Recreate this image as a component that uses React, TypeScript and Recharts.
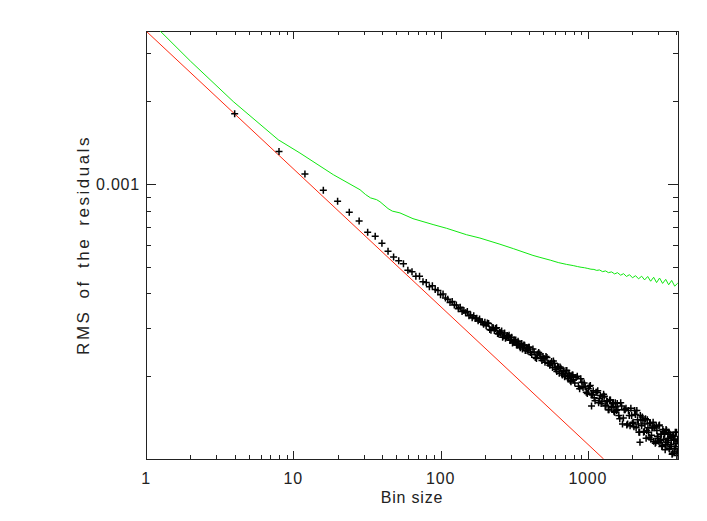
import React from 'react';
import { ComposedChart, Line, Scatter, XAxis, YAxis, ReferenceArea } from 'recharts';

// axis ticks (log scales)
const binMajor = [1, 10, 100, 1000];
const binMinor = [2, 3, 4, 5, 6, 7, 8, 9, 20, 30, 40, 50, 60, 70, 80, 90, 200, 300, 400, 500, 600, 700, 800, 900, 2000, 3000, 4000];
const rmsMajor = [0.001];
const rmsMinor = [0.0002, 0.0003, 0.0004, 0.0005, 0.0006, 0.0007, 0.0008, 0.0009, 0.002, 0.003];

// red reference line (1/sqrt(N))
const redBins = [1, 1280];
const redRms = [0.0036, 0.0001];

// green curve, rms in units of 1e-6
const greenBins = [1, 2, 3.91, 7.91, 11.1, 18.7, 28.4, 31, 33.5, 36.8, 38.8, 44, 47, 53, 65, 89, 110, 150, 185, 253, 312, 424, 473, 560, 630, 718, 796, 850, 900, 950, 1000, 1050, 1100, 1150,
  1200, 1260, 1320, 1380, 1450, 1520, 1590, 1670, 1750, 1830, 1920, 2010, 2110, 2210, 2320, 2430, 2550, 2670, 2800, 2930, 3070, 3220, 3380, 3540, 3710, 3890, 4080];
const greenRms = [4050, 2800, 1995, 1448, 1296, 1081, 953, 915, 890, 877, 862, 814, 797, 785, 748, 712, 690, 654, 636, 604, 582, 550, 541, 528, 518, 510, 505, 501, 498, 496, 493, 490, 489, 485,
  487, 480, 483, 476, 479, 471, 476, 466, 472, 461, 468, 456, 464, 452, 462, 448, 461, 443, 458, 438, 455, 435, 450, 430, 446, 425, 436];

// black crosses, rms in units of 1e-6
const crossBins = [
  4, 8, 12, 16, 20, 24, 28, 32, 36, 40, 44, 48, 52, 56, 60, 64, 68, 72, 76, 80, 84, 88, 92, 96, 100,
  104, 108, 112, 116, 120, 124, 128, 132, 136, 140, 144, 148, 152, 156, 160, 164, 168, 172, 176, 180, 184, 188, 192, 196, 200,
  208, 216, 224, 232, 240, 248, 256, 264, 272, 280, 288, 296, 304, 312, 320, 328, 336, 344, 352, 360, 368, 376, 384, 392, 400,
  416, 432, 448, 464, 480, 496, 512, 528, 544, 560, 576, 592, 608, 624, 640, 656, 672, 688, 704, 720, 736, 752, 768, 784, 800,
  832, 864, 896, 928, 960, 992, 1024, 1056, 1088, 1120, 1152, 1184, 1216, 1248, 1280, 1312, 1344, 1376, 1408, 1440, 1472, 1504, 1536, 1568, 1600,
  1648, 1696, 1744, 1792, 1840, 1888, 1936, 1984, 2032, 2080, 2128, 2176, 2224, 2272, 2320, 2368, 2416, 2464, 2512, 2560, 2608, 2656, 2704, 2752, 2800, 2848,
  2896, 2944, 2992, 3040, 3088, 3136, 3184, 3232, 3280, 3328, 3376, 3424, 3472, 3520, 3568, 3616, 3664, 3712, 3760, 3808, 3856, 3904, 3952, 4000, 4048, 4096,
  1060, 2260,
];
const crossRms = [
  1799, 1313, 1087, 948, 865, 789, 734, 667, 646, 609, 570, 543, 526, 513, 486, 480, 462, 462, 441, 438, 423, 427, 413, 410, 396,
  398, 385, 381, 371, 374, 363, 363, 352, 356, 344, 347, 340, 344, 332, 334, 326, 332, 324, 325, 318, 323, 315, 314, 309, 314,
  312, 296, 301, 293, 300, 285, 288, 277, 287, 278, 279, 270, 277, 267, 267, 260, 268, 258, 262, 251, 260, 248, 254, 247, 255,
  240, 245, 232, 244, 233, 236, 225, 234, 223, 223, 215, 223, 212, 217, 205, 214, 202, 209, 202, 210, 196, 201, 191, 202, 194,
  198, 184, 196, 182, 183, 173, 184, 172, 177, 163, 175, 160, 170, 162, 172, 156, 163, 151, 164, 155, 159, 149, 160, 150, 151,
  140, 156, 141, 151, 133, 150, 132, 144, 136, 150, 130, 139, 125, 144, 132, 138, 126, 140, 127, 130, 120, 135, 122, 130, 116, 131,
  115, 127, 119, 132, 115, 123, 111, 128, 118, 124, 113, 127, 115, 117, 109, 123, 111, 120, 105, 121, 106, 118, 111, 125, 107, 116,
  156, 115,
];

// the bins in between, from 204 upwards
const crossBins2 = [
  204, 212, 220, 228, 236, 244, 252, 260, 268, 276, 284, 292, 300, 308, 316, 324, 332, 340, 348, 356, 364, 372, 380, 388, 396,
  408, 424, 440, 456, 472, 488, 504, 520, 536, 552, 568, 584, 600, 616, 632, 648, 664, 680, 696, 712, 728, 744, 760, 776, 792,
  816, 848, 880, 912, 944, 976, 1008, 1040, 1072, 1104, 1136, 1168, 1200, 1232, 1264, 1296, 1328, 1360, 1392, 1424, 1456, 1488, 1520, 1552, 1584,
  1624, 1672, 1720, 1768, 1816, 1864, 1912, 1960, 2008, 2056, 2104, 2152, 2200, 2248, 2296, 2344, 2392, 2440, 2488, 2536, 2584, 2632, 2680, 2728, 2776, 2824,
  2872, 2920, 2968, 3016, 3064, 3112, 3160, 3208, 3256, 3304, 3352, 3400, 3448, 3496, 3544, 3592, 3640, 3688, 3736, 3784, 3832, 3880, 3928, 3976, 4024, 4072,
];
const crossRms2 = [
  305, 311, 294, 300, 298, 286, 289, 292, 280, 275, 281, 282, 271, 264, 271, 271, 260, 263, 254, 263, 255, 259, 248, 253, 255,
  244, 251, 234, 241, 241, 228, 232, 236, 223, 219, 226, 227, 215, 208, 216, 216, 205, 209, 199, 210, 200, 205, 193, 200, 202,
  189, 200, 180, 190, 189, 175, 180, 185, 171, 167, 175, 177, 166, 159, 168, 169, 157, 162, 151, 164, 154, 160, 148, 155, 159,
  144, 160, 134, 151, 153, 134, 144, 153, 135, 131, 145, 150, 134, 125, 139, 142, 125, 134, 119, 139, 125, 135, 118, 130, 136, 130,
  114, 132, 121, 116, 133, 117, 123, 112, 126, 123, 108, 128, 113, 119, 125, 109, 121, 113, 104, 122, 117, 109, 125, 114, 103, 118,
];

const redData = redBins.map((x, i) => ({ x, y: redRms[i] }));
const greenData = greenBins.map((x, i) => ({ x, y: greenRms[i] * 1e-6 }));
const crossData = [
  ...crossBins.map((x, i) => ({ x, y: crossRms[i] * 1e-6 })),
  ...crossBins2.map((x, i) => ({ x, y: crossRms2[i] * 1e-6 })),
];

const PLOT_W = 532;
const PLOT_H = 428;
const INK = '#222';
const FONT = { fontFamily: 'Liberation Sans, Arial, sans-serif', fontSize: 16, letterSpacing: 0.8, fill: INK };

const XTick = (props: any) => {
  const { x, y, payload } = props;
  const major = binMajor.includes(payload.value);
  const len = major ? 8 : 4;
  const px = Math.round(x) + 0.5;
  return (
    <g>
      <line x1={px} x2={px} y1={y} y2={y - len} stroke={INK} />
      <line x1={px} x2={px} y1={y - PLOT_H} y2={y - PLOT_H + len} stroke={INK} />
      {major && (
        <text x={x} y={y + 24.5} textAnchor="middle" {...FONT}>
          {payload.value}
        </text>
      )}
    </g>
  );
};

const YTick = (props: any) => {
  const { x, y, payload } = props;
  const major = rmsMajor.includes(payload.value);
  const len = major ? 10 : 5;
  const py = Math.round(y) + 0.5;
  return (
    <g>
      <line x1={x} x2={x + len} y1={py} y2={py} stroke={INK} />
      <line x1={x + PLOT_W} x2={x + PLOT_W - len} y1={py} y2={py} stroke={INK} />
      {major && (
        <text x={x - 6} y={y + 6} textAnchor="end" {...FONT}>
          {payload.value}
        </text>
      )}
    </g>
  );
};

const Cross = (props: any) => {
  const { cx, cy } = props;
  if (cx == null || cy == null) return null;
  return <path d={`M${cx - 3.5},${cy}h7M${cx},${cy - 3.5}v7`} stroke="#000" strokeWidth={1.5} fill="none" />;
};

export default function App() {
  return (
    <div style={{ position: 'absolute', left: 0, top: 0, width: 707, height: 521, background: '#fff' }}>
      <ComposedChart width={707} height={521} margin={{ top: 31, right: 29, bottom: 0, left: 0 }}>
        <XAxis
          dataKey="x"
          type="number"
          scale="log"
          domain={[1, 4096]}
          allowDataOverflow
          ticks={[...binMajor, ...binMinor]}
          interval={0}
          tickSize={0}
          tickMargin={0}
          axisLine={false}
          tick={<XTick />}
          height={62}
          label={{ value: 'Bin size', position: 'insideBottom', offset: 18, ...FONT }}
        />
        <YAxis
          dataKey="y"
          type="number"
          scale="log"
          domain={[0.0001, 0.0036]}
          allowDataOverflow
          ticks={[...rmsMajor, ...rmsMinor]}
          interval={0}
          tickSize={0}
          tickMargin={0}
          axisLine={false}
          tick={<YTick />}
          width={146}
          label={{
            content: () => (
              <text
                x={89}
                y={245}
                transform="rotate(-90 89 245)"
                textAnchor="middle"
                {...FONT}
                fontSize={17}
                letterSpacing={2.5}
                wordSpacing={4}
              >
                RMS of the residuals
              </text>
            ),
          }}
        />
        <ReferenceArea x1={1} x2={4096} y1={0.0001} y2={0.0036} fill="none" stroke={INK} strokeWidth={1} shapeRendering="crispEdges" />
        <Line data={redData} dataKey="y" type="linear" stroke="#ff2a10" strokeWidth={1} dot={false} isAnimationActive={false} />
        <Line data={greenData} dataKey="y" type="linear" stroke="#11e811" strokeWidth={1} dot={false} isAnimationActive={false} />
        <Scatter data={crossData} dataKey="y" shape={<Cross />} isAnimationActive={false} />
      </ComposedChart>
    </div>
  );
}
